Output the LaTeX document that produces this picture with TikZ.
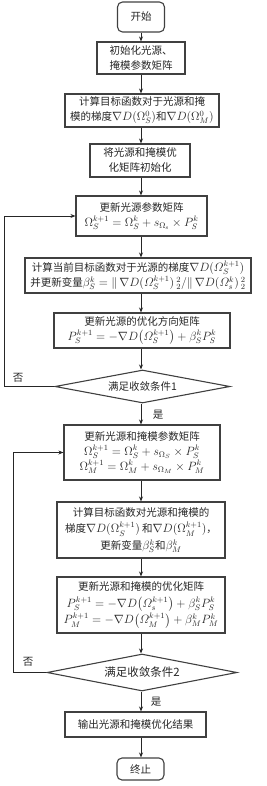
\documentclass[tikz,border=0pt]{standalone}
\usepackage{amsmath}
\usepackage{fontspec}
\newfontfamily\cjk{Noto Sans CJK SC}
\usetikzlibrary{shapes.geometric,arrows.meta}
\newcommand\mm[1]{{\fontsize{11.5}{15}\selectfont$#1$}}
\begin{document}
\begin{tikzpicture}[x=1pt,y=1pt]
\tikzset{
 base/.style={draw=black!75, line width=1.1pt, inner sep=0pt, align=center,
   font=\cjk\fontsize{10.5}{15}\selectfont, text=black!85},
 proc/.style={base, rectangle},
 term/.style={base, rectangle, rounded corners=5pt},
 dec/.style={base, diamond, aspect=5},
 arr/.style={-{Stealth[length=5pt,width=4pt]}, line width=0.9pt, draw=black!85},
 lab/.style={font=\cjk\fontsize{10.5}{12}\selectfont, inner sep=0pt, text=black!85}
}
\useasboundingbox (0,0) rectangle (266,-786);
\coordinate (sp) at (141,0);
\coordinate (l1) at (4,0);
\coordinate (l2) at (13,0);

\node[term, minimum width=47, minimum height=30] (n1) at (141,-17) {开始};
\node[proc, minimum width=88, minimum height=32] (n2) at (141,-58) {初始化光源、\\掩模参数矩阵};
\node[proc, minimum width=154, minimum height=33] (n3) at (142,-110.5) {计算目标函数对于光源和掩\\模的梯度\mm{\nabla D(\Omega_S^0)}和\mm{\nabla D(\Omega_M^0)}};
\node[proc, minimum width=100, minimum height=33] (n4) at (140,-160.5) {将光源和掩模优\\化矩阵初始化};
\node[proc, minimum width=131, minimum height=40] (n5) at (141.5,-216) {更新光源参数矩阵\\\mm{\Omega_S^{k+1}=\Omega_S^k+s_{\Omega_{\mathrm{s}}}\times P_S^k}};
\node[proc, minimum width=226, minimum height=35] (n6) at (138,-275.5) {计算当前目标函数对于光源的梯度\mm{\nabla D(\varOmega_S^{k+1})}\\并更新变量\mm{\beta_S^k=\|\,\nabla D(\varOmega_S^{k+1})\,{}^{2}_{2}/\|\,\nabla D(\varOmega_s^{k})\,{}^{2}_{2}}};
\node[proc, minimum width=176, minimum height=35] (n7) at (142,-330.5) {更新光源的优化方向矩阵\\\mm{P_S^{k+1}=-\nabla D\bigl(\varOmega_S^{k+1}\bigr)+\beta_S^kP_S^k}};
\node[dec, minimum width=175, minimum height=33] (d1) at (142.5,-386.5) {满足收敛条件1};
\node[proc, minimum width=156, minimum height=55] (n8) at (142,-452.5) {更新光源和掩模参数矩阵\\\mm{\Omega_S^{k+1}=\Omega_S^k+s_{\Omega_S}\times P_S^k}\\\mm{\Omega_M^{k+1}=\Omega_M^k+s_{\Omega_M}\times P_M^k}};
\node[proc, minimum width=168, minimum height=56, font=\cjk\fontsize{10.5}{16.5}\selectfont] (n9) at (141,-530) {计算目标函数对光源和掩模的\\梯度\mm{\nabla D(\Omega_S^{k+1})} 和\mm{\nabla D(\Omega_M^{k+1})}，\\更新变量\mm{\beta_S^k}和\mm{\beta_M^k}};
\node[proc, minimum width=168, minimum height=56, font=\cjk\fontsize{10.5}{16.5}\selectfont] (n10) at (141,-605) {更新光源和掩模的优化矩阵\\\mm{P_S^{k+1}=-\nabla D\bigl(\varOmega_s^{k+1}\bigr)+\beta_S^kP_S^k}\\\mm{P_M^{k+1}=-\nabla D\bigl(\varOmega_M^{k+1}\bigr)+\beta_M^kP_M^k}};
\node[dec, minimum width=190, minimum height=37, font=\cjk\fontsize{11.5}{14}\selectfont] (d2) at (142,-672.5) {满足收敛条件2};
\node[proc, minimum width=141, minimum height=25] (n11) at (135.5,-724.5) {输出光源和掩模优化结果};
\node[term, minimum width=47, minimum height=22] (n12) at (140.5,-769) {终止};

\draw[arr] (sp|-n1.south) -- (sp|-n2.north);
\draw[arr] (sp|-n2.south) -- (sp|-n3.north);
\draw[arr] (sp|-n3.south) -- (sp|-n4.north);
\draw[arr] (sp|-n4.south) -- (sp|-n5.north);
\draw[arr] (sp|-n5.south) -- (sp|-n6.north);
\draw[arr] (sp|-n6.south) -- (sp|-n7.north);
\draw[arr] (sp|-n7.south) -- (sp|-d1.north);
\draw[arr] (sp|-d1.south) -- (sp|-n8.north);
\draw[arr] (sp|-n8.south) -- (sp|-n9.north);
\draw[arr] (sp|-n9.south) -- (sp|-n10.north);
\draw[arr] (sp|-n10.south) -- (sp|-d2.north);
\draw[arr] (sp|-d2.south) -- (sp|-n11.north);
\draw[arr] (sp|-n11.south) -- (sp|-n12.north);

\draw[arr] (d1.west) -- (l1|-d1.west) |- (n5.west);
\draw[arr] (d2.west) -- (l2|-d2.west) |- (n8.west);

\node[lab] (no1) at (18,-378) {否};
\node[lab] (yes1) at (158,-415) {是};
\node[lab] (no2) at (28,-662) {否};
\node[lab] (yes2) at (156,-702) {是};
\end{tikzpicture}
\end{document}
